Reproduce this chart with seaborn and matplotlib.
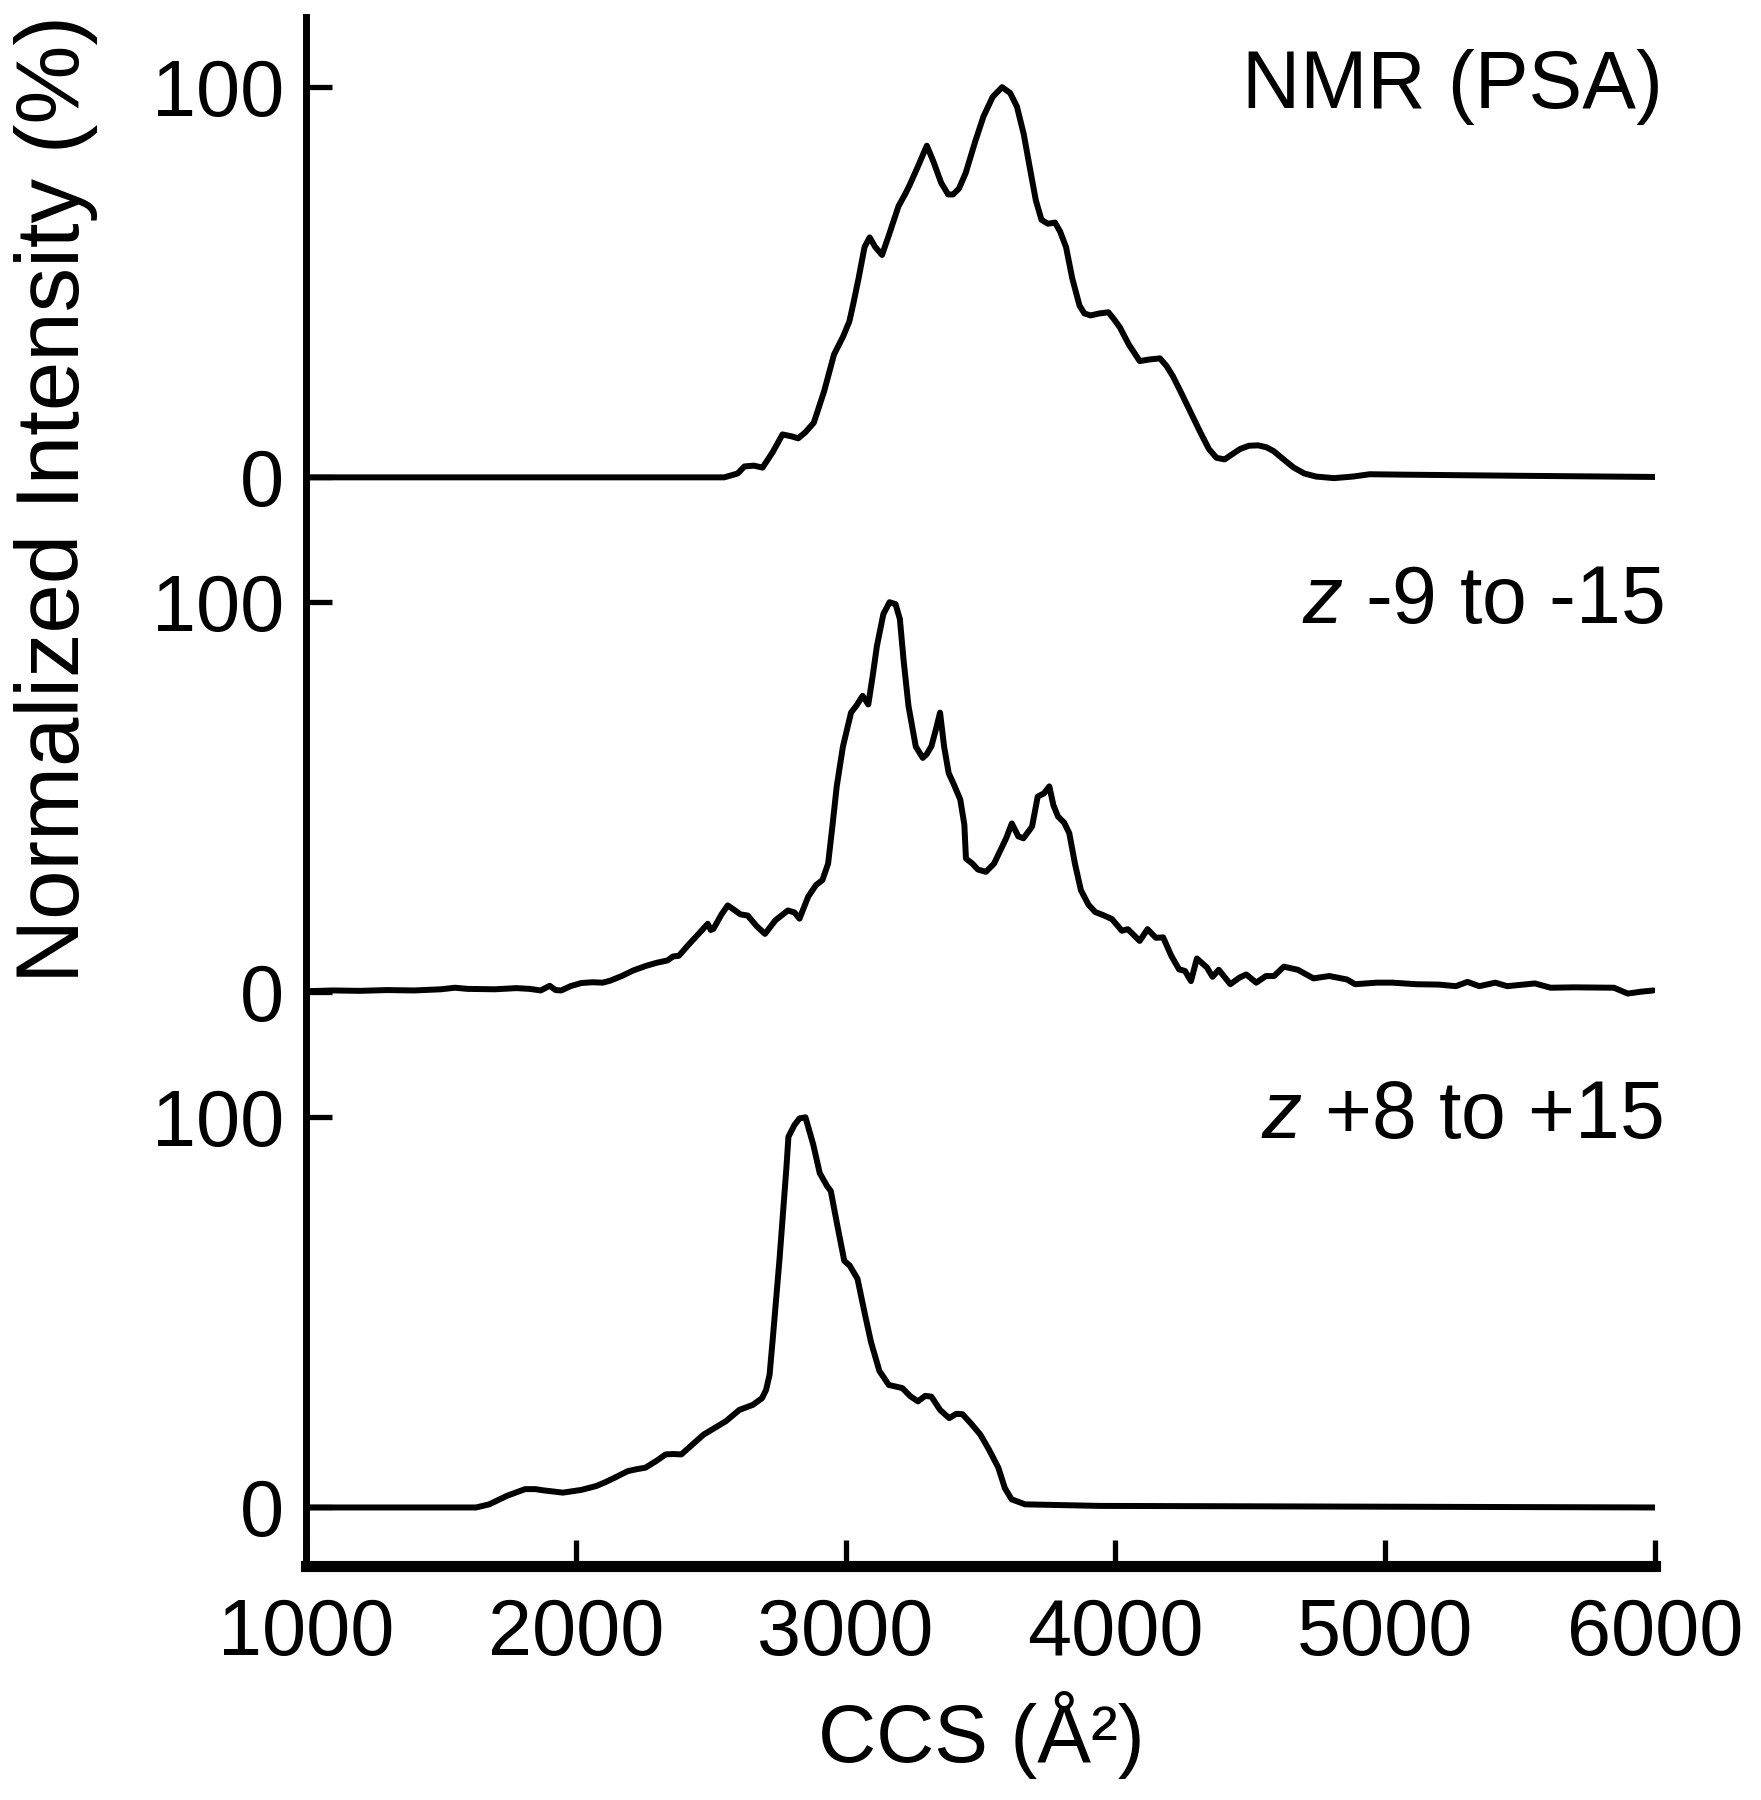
import numpy as np
import matplotlib
matplotlib.use("Agg")
import matplotlib.pyplot as plt
import seaborn as sns

# NMR (PSA) predicted CCS distribution
nmr_ccs = [1000, 2000, 2550, 2600, 2625, 2660, 2692, 2730, 2766, 2800, 2824, 2850, 2882, 2920,
           2957, 2990, 3014, 3030, 3048, 3070, 3089, 3110, 3135, 3160, 3196, 3220, 3238, 3270,
           3301, 3325, 3354, 3380, 3398, 3420, 3445, 3480, 3511, 3545, 3580, 3610, 3635, 3660,
           3685, 3705, 3726, 3750, 3776, 3795, 3817, 3840, 3867, 3885, 3908, 3940, 3974, 3995,
           4016, 4050, 4090, 4125, 4165, 4190, 4214, 4245, 4280, 4315, 4347, 4375, 4405, 4430,
           4463, 4495, 4529, 4560, 4587, 4625, 4661, 4700, 4744, 4810, 4880, 4943, 5055, 5500, 6000]
nmr_int = [0, 0, 0, 1.0, 2.8, 3.0, 2.5, 6.5, 11.0, 10.5, 10.0, 11.5, 14.0, 22,
           31.5, 36, 40, 45, 51, 59, 61.5, 59, 57, 62, 69.5, 72.5, 75, 80,
           85, 81, 75.5, 72.5, 72.5, 74, 78, 86, 92.5, 97.5, 100, 98.5, 95, 88,
           78.5, 71, 66, 65, 65.3, 63, 59, 51, 44, 42, 41.5, 42, 42.3, 40.5,
           38.5, 34, 29.8, 30.2, 30.5, 28.5, 25.8, 21.5, 16.5, 11.5, 7.2, 5.0, 4.6, 5.8,
           7.3, 8.1, 8.2, 7.7, 6.7, 4.5, 2.5, 1.0, 0.2, -0.2, 0.2, 0.8, 0.7, 0.4, 0.1]

# negative charge states z -9 to -15
neg_ccs = [1000, 1100, 1200, 1300, 1400, 1500, 1552, 1600, 1700, 1780, 1829, 1870, 1903, 1925,
           1946, 1980, 2020, 2060, 2100, 2127, 2170, 2212, 2260, 2300, 2340, 2360, 2382, 2420,
           2467, 2489, 2500, 2510, 2540, 2563, 2590, 2610, 2637, 2670, 2701, 2740, 2786, 2810,
           2829, 2861, 2890, 2914, 2935, 2950, 2967, 2990, 3020, 3040, 3063, 3084, 3100, 3116,
           3140, 3163, 3185, 3201, 3215, 3233, 3260, 3286, 3300, 3318, 3335, 3350, 3365, 3382,
           3400, 3425, 3440, 3446, 3470, 3490, 3520, 3550, 3574, 3595, 3616, 3640, 3659, 3691,
           3712, 3735, 3755, 3770, 3787, 3810, 3829, 3850, 3872, 3900, 3925, 3955, 3987, 4024,
           4046, 4090, 4119, 4150, 4177, 4207, 4236, 4258, 4280, 4302, 4339, 4360, 4383, 4426,
           4460, 4485, 4522, 4558, 4588, 4624, 4676, 4734, 4793, 4859, 4888, 4969, 5027, 5115,
           5200, 5262, 5305, 5349, 5408, 5452, 5555, 5613, 5700, 5848, 5899, 5950, 5994]
neg_int = [0.3, 0.5, 0.4, 0.6, 0.5, 0.8, 1.2, 0.9, 0.8, 1.1, 0.9, 0.5, 1.7, 0.6,
           0.5, 1.6, 2.4, 2.6, 2.5, 3.0, 4.2, 5.6, 6.8, 7.6, 8.2, 9.2, 9.4, 12.4,
           15.9, 17.6, 16.0, 16.3, 20, 22.3, 21.0, 20.0, 19.7, 17.0, 15.0, 18.5, 21.0, 20.5,
           18.9, 24.5, 27.5, 28.8, 33.0, 42, 52.8, 63, 71.7, 73.5, 76, 73.8, 81, 88.8,
           97, 100, 99.5, 95.7, 85, 73.4, 63, 60.1, 61, 63.1, 67.5, 71.7, 63, 56.2,
           53.5, 49.4, 43, 34.3, 33, 31.5, 30.9, 33, 36.5, 39.5, 43.3, 40, 39.5, 42.5,
           50.2, 51, 52.8, 48, 45.1, 43.5, 40.8, 33, 26.2, 22.5, 20.6, 19.8, 18.8, 15.8,
           16.2, 13.2, 16.2, 14.0, 14.1, 9.4, 5.9, 5.5, 2.9, 8.7, 6.4, 4.0, 5.8, 2.1,
           3.8, 4.6, 2.5, 4.2, 4.2, 6.6, 5.8, 3.6, 4.2, 3.3, 2.1, 2.5, 2.5, 2.1,
           2.0, 1.6, 2.7, 1.6, 2.5, 1.6, 2.3, 1.2, 1.3, 1.2, -0.3, 0.2, 0.5]

# positive charge states z +8 to +15
pos_ccs = [1000, 1348, 1630, 1679, 1745, 1812, 1850, 1878, 1952, 2020, 2076, 2110, 2143, 2192,
           2225, 2258, 2300, 2333, 2360, 2391, 2430, 2474, 2520, 2556, 2606, 2656, 2690, 2705,
           2718, 2730, 2755, 2780, 2788, 2810, 2829, 2851, 2880, 2904, 2930, 2945, 2970, 2995,
           3015, 3044, 3070, 3094, 3125, 3160, 3185, 3210, 3240, 3268, 3295, 3318, 3350, 3384,
           3410, 3433, 3465, 3499, 3530, 3566, 3590, 3615, 3665, 3943, 4500, 5000, 6000]
pos_int = [0, 0, 0, 0.8, 3.0, 4.7, 4.7, 4.4, 3.8, 4.5, 5.5, 6.5, 7.6, 9.3,
           9.8, 10.2, 12.0, 13.6, 13.7, 13.6, 16, 18.7, 20.6, 22.1, 25.0, 26.3, 28.0, 30.1,
           34, 43.3, 63.7, 86.6, 95, 98, 99.7, 100, 93, 85.7, 82.5, 81.1, 72, 63.2,
           62, 58.6, 50, 42.4, 35, 31.4, 31, 30.6, 28.5, 27.2, 28.6, 28.4, 25, 22.9,
           24, 23.9, 21.5, 18.7, 15, 10.2, 5, 2.1, 0.8, 0.4, 0.3, 0.2, 0.0]

panel_labels = ['NMR (PSA)', '$z$ -9 to -15', '$z$ +8 to +15']
x_ticks = [1000, 2000, 3000, 4000, 5000, 6000]
y_tick_text = ['0', '100']

sns.set_style('ticks', {'axes.edgecolor': 'black', 'text.color': 'black',
                        'xtick.color': 'black', 'ytick.color': 'black',
                        'axes.labelcolor': 'black'})
plt.rcParams['font.family'] = ['Liberation Sans', 'DejaVu Sans']
plt.rcParams['mathtext.fontset'] = 'custom'
plt.rcParams['mathtext.rm'] = 'Liberation Sans'
plt.rcParams['mathtext.it'] = 'Liberation Sans:italic'

fig = plt.figure(figsize=(17.61, 18), dpi=100)
ax = fig.add_axes([0.1738, 0.13, 0.766, 0.8606])

# stack the three traces: top, middle, bottom
offsets = [264, 132, 0]
traces = [(nmr_ccs, nmr_int), (neg_ccs, neg_int), (pos_ccs, pos_int)]
for (xs, ys), off, lab in zip(traces, offsets, panel_labels):
    sns.lineplot(x=xs, y=np.array(ys) + off, ax=ax, color='black',
                 sort=False, estimator=None)
    ax.text(6030, 100 + off, lab, ha='right', va='center', fontsize=58, color='black')

for line in ax.get_lines():
    line.set_linewidth(4.3)
    line.set_solid_joinstyle('round')

ax.set_xlim(1000, 6000)
ax.set_ylim(-15, 382)
ax.set_xticks(x_ticks)
ax.set_xticklabels([str(t) for t in x_ticks])
yt = []
for off in offsets[::-1]:
    yt += [off, off + 100]
ax.set_yticks(yt)
ax.set_yticklabels(y_tick_text * 3)

sns.despine(ax=ax)
ax.spines['left'].set_linewidth(5)
ax.spines['bottom'].set_linewidth(8)
ax.tick_params(axis='both', direction='in', length=19, width=3.8, labelsize=57,
               color='black', labelcolor='black')
ax.tick_params(axis='y', pad=16)
ax.tick_params(axis='x', pad=22)
ax.set_xlabel('')
ax.set_ylabel('')

fig.text(0.032, 0.723, 'Normalized Intensity (%)', rotation=90, ha='center', va='center',
         fontsize=64, color='black')
fig.text(0.557, 0.036, 'CCS (Å²)', ha='center', va='center', fontsize=58, color='black')

fig.savefig('out.png', dpi=100, facecolor='white')
